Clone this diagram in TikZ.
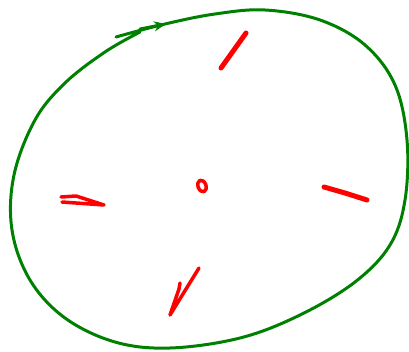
\documentclass[tikz,border=0pt]{standalone}
\usepackage{xcolor}
\definecolor{skgreen}{HTML}{008000}
\definecolor{skred}{HTML}{FF0000}
\usetikzlibrary{arrows.meta}
\tikzset{
  orbit/.style ={draw=skgreen, line width=3pt, line cap=round, line join=round},
  tick/.style  ={draw=skred, line width=5pt, line cap=round, line join=round},
}

\begin{document}
\begin{tikzpicture}[x=1pt, y=-1pt]
  \useasboundingbox (0,0) rectangle (409,352);
  % green loop round the centre
  \draw[orbit] plot[smooth, tension=0.6] coordinates {
    (116,37) (165,24) (215,14) (265,10) (320,20) (365,45) (395,85)
    (407,140) (405,200) (390,245) (355,282) (300,315) (240,338)
    (170,348) (115,342) (65,318) (30,280) (12,230) (14,175) (35,120)
    (65,83) (105,52) (140,32)};
  \draw[orbit, -{Stealth[length=12pt, width=10pt]}] (140,29) -- (166,24);
  % red marks
  \draw[tick] (221,68) -- (246,33);
  \draw[tick, line width=3.5pt] (61,197) -- (76,196) -- (104,205) -- (62,202);
  \draw[tick] (324,187) -- (345,193) -- (367,200);
  \draw[tick, line width=3.5pt] (180,283) -- (179,289) -- (170,315) -- (199,268);
  \draw[tick, line width=3.5pt] (202,186) ellipse[x radius=4, y radius=6, rotate=20];
\end{tikzpicture}
\end{document}
